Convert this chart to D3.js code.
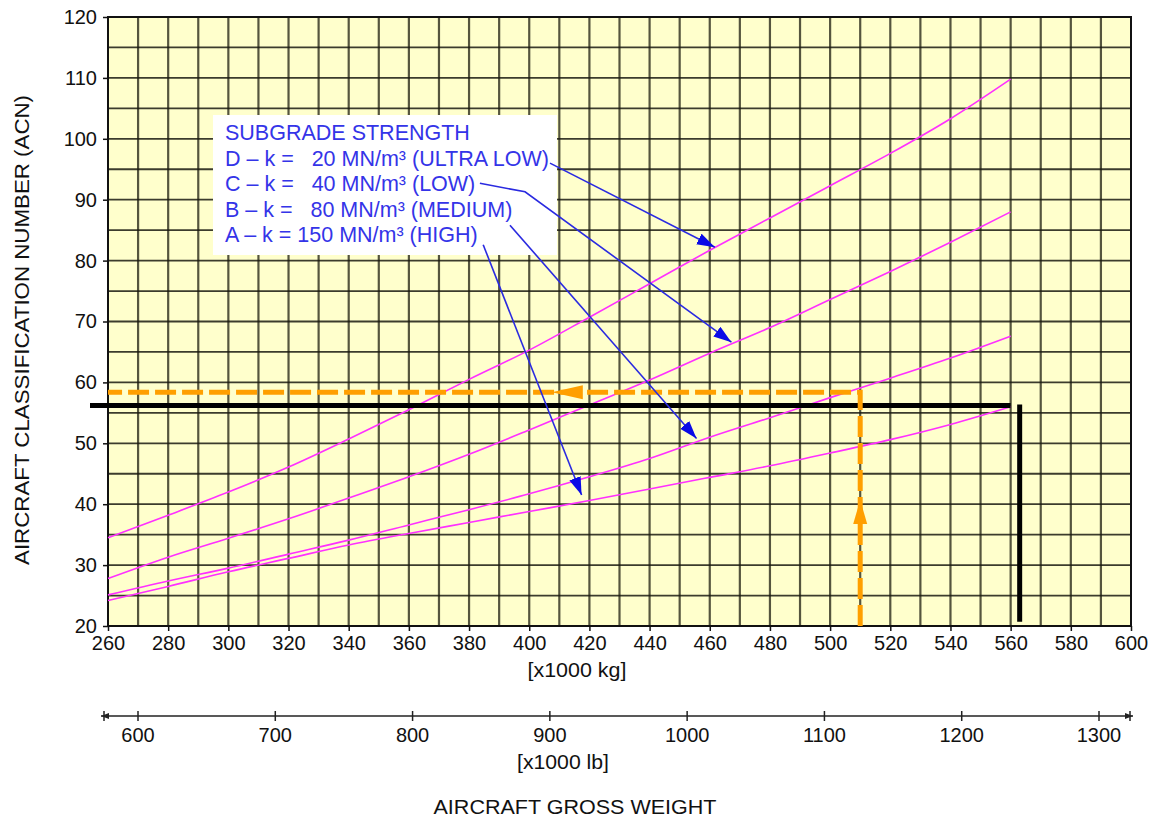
<!DOCTYPE html>
<html lang="en">
<head>
    <meta charset="UTF-8">
    <script src="https://d3js.org/d3.v7.min.js"></script>
    <title>ACN chart</title>
    <style>
        body { margin: 0; background: #fff; }
        text { font-family: "Liberation Sans", Arial, sans-serif; }
    </style>
</head>
<body>
    <div class="fig"></div>
    <script>
        // ---------------- data ----------------
        const weightKg = [260, 280, 300, 320, 340, 360, 380, 400, 420, 440, 460, 480, 500, 520, 540, 560];
        const acnD = [34.5, 38.2, 42.0, 46.1, 50.7, 55.5, 60.5, 65.3, 70.7, 76.2, 81.7, 87.0, 92.3, 97.6, 103.3, 109.8];
        const acnC = [27.8, 31.3, 34.4, 37.6, 41.0, 44.5, 48.2, 52.2, 56.3, 60.4, 64.8, 69.0, 73.6, 78.2, 83.0, 88.0];
        const acnB = [25.1, 27.4, 29.5, 31.8, 34.1, 36.6, 39.1, 41.7, 44.5, 47.5, 51.0, 54.2, 57.5, 60.7, 64.0, 67.6];
        const acnA = [24.2, 26.5, 28.9, 31.1, 33.3, 35.2, 37.0, 38.8, 40.6, 42.5, 44.4, 46.3, 48.4, 50.6, 53.1, 56.0];
        const kgTicks = [260, 280, 300, 320, 340, 360, 380, 400, 420, 440, 460, 480, 500, 520, 540, 560, 580, 600];
        const acnTicks = [20, 30, 40, 50, 60, 70, 80, 90, 100, 110, 120];
        const lbTicks = [600, 700, 800, 900, 1000, 1100, 1200, 1300];
        const legendLines = [
            "SUBGRADE STRENGTH",
            "D \u2013 k =   20 MN/m\u00b3 (ULTRA LOW)",
            "C \u2013 k =   40 MN/m\u00b3 (LOW)",
            "B \u2013 k =   80 MN/m\u00b3 (MEDIUM)",
            "A \u2013 k = 150 MN/m\u00b3 (HIGH)"
        ];
        // pointer arrows from the legend to the curves, [kg, acn] points
        const pointerD = [[406.9, 96.0], [461.7, 82.2]];
        const pointerC = [[383.6, 92.7], [398.6, 91.3], [467.2, 66.6]];
        const pointerB = [[393.6, 85.8], [455.6, 50.8]];
        const pointerA = [[384.7, 82.6], [417.4, 41.5]];
        // worked example
        const exampleKg = 510, exampleAcn = 58.4;
        const maxKg = 563, maxAcn = 56.2;

        // ---------------- layout ----------------
        const width = 1161, height = 823;
        const plot = { left: 108, right: 1131, top: 17, bottom: 626 };

        const svg = d3.select(".fig").append("svg")
            .attr("width", width)
            .attr("height", height);

        const x = d3.scaleLinear().domain([260, 600]).range([plot.left, plot.right]);
        const y = d3.scaleLinear().domain([20, 120]).range([plot.bottom, plot.top]);
        const xLb = d3.scaleLinear().domain([600, 1300]).range([138, 1099]);

        // background
        svg.append("rect")
            .attr("x", plot.left).attr("y", plot.top)
            .attr("width", plot.right - plot.left).attr("height", plot.bottom - plot.top)
            .attr("fill", "#ffffcc");

        // grid
        const grid = svg.append("g");
        grid.selectAll(".vg")
            .data(d3.range(270, 600, 10))
            .enter().append("line")
            .attr("x1", d => x(d)).attr("x2", d => x(d))
            .attr("y1", plot.top).attr("y2", plot.bottom)
            .attr("stroke", "#2a2a1a").attr("stroke-opacity", 0.8).attr("stroke-width", 2.2);
        grid.selectAll(".hg")
            .data(d3.range(25, 120, 5))
            .enter().append("line")
            .attr("x1", plot.left).attr("x2", plot.right)
            .attr("y1", d => y(d)).attr("y2", d => y(d))
            .attr("stroke", "#1a1a10").attr("stroke-opacity", 0.85).attr("stroke-width", 1.8);

        // frame
        svg.append("rect")
            .attr("x", plot.left).attr("y", plot.top)
            .attr("width", plot.right - plot.left).attr("height", plot.bottom - plot.top)
            .attr("fill", "none").attr("stroke", "#111").attr("stroke-width", 2);

        // axes
        const xAxis = svg.append("g")
            .attr("transform", `translate(0,${plot.bottom})`)
            .call(d3.axisBottom(x).tickValues(kgTicks).tickSize(5).tickPadding(5));
        const yAxis = svg.append("g")
            .attr("transform", `translate(${plot.left},0)`)
            .call(d3.axisLeft(y).tickValues(acnTicks).tickSize(5).tickPadding(6));
        [xAxis, yAxis].forEach(a => {
            a.select(".domain").remove();
            a.selectAll(".tick line").attr("stroke", "#111").attr("stroke-width", 1.5);
            a.selectAll("text").attr("font-size", 20).attr("fill", "#111")
                .attr("font-family", "'Liberation Sans', Arial, sans-serif");
        });

        // curves
        const lineGen = d3.line()
            .x(d => x(d[0]))
            .y(d => y(d[1]))
            .curve(d3.curveMonotoneX);
        [acnD, acnC, acnB, acnA].forEach(series => {
            svg.append("path")
                .datum(weightKg.map((w, i) => [w, series[i]]))
                .attr("d", lineGen)
                .attr("fill", "none")
                .attr("stroke", "#ff30ff")
                .attr("stroke-width", 1.6);
        });

        // black limit line
        svg.append("line")
            .attr("x1", 90).attr("x2", x(560))
            .attr("y1", y(maxAcn)).attr("y2", y(maxAcn))
            .attr("stroke", "#000").attr("stroke-width", 5);
        svg.append("line")
            .attr("x1", x(maxKg)).attr("x2", x(maxKg))
            .attr("y1", y(maxAcn) - 1).attr("y2", y(20.7))
            .attr("stroke", "#000").attr("stroke-width", 5);

        // orange worked example
        const orange = "#ff9f00";
        svg.append("path")
            .attr("d", `M${x(exampleKg)},${y(20)} L${x(exampleKg)},${y(exampleAcn)} L${plot.left},${y(exampleAcn)}`)
            .attr("fill", "none")
            .attr("stroke", orange)
            .attr("stroke-width", 5)
            .attr("stroke-dasharray", "21,6");
        // up arrow head
        const ux = x(exampleKg), uy = y(40.7);
        svg.append("path")
            .attr("d", `M${ux},${uy} L${ux + 7},${uy + 24} L${ux - 7},${uy + 24} Z`)
            .attr("fill", orange);
        // left arrow head
        const lx = x(407.5), ly = y(exampleAcn);
        svg.append("path")
            .attr("d", `M${lx},${ly} L${lx + 31},${ly - 7} L${lx + 31},${ly + 7} Z`)
            .attr("fill", orange);

        // legend box
        const legend = svg.append("g");
        legend.append("rect")
            .attr("x", 213).attr("y", 115)
            .attr("width", 344).attr("height", 140)
            .attr("fill", "#fff");
        legend.selectAll("text")
            .data(legendLines)
            .enter().append("text")
            .attr("x", 225)
            .attr("y", (d, i) => 140 + i * 25.6)
            .attr("font-size", 21.5)
            .attr("fill", "#3434e8")
            .attr("xml:space", "preserve")
            .style("white-space", "pre")
            .text(d => d);

        // blue pointers
        svg.append("defs").append("marker")
            .attr("id", "bluehead")
            .attr("markerUnits", "userSpaceOnUse")
            .attr("markerWidth", 20).attr("markerHeight", 14)
            .attr("refX", 18).attr("refY", 6)
            .attr("orient", "auto")
            .append("path")
            .attr("d", "M0,0 L18,6 L0,12 Z")
            .attr("fill", "#0a0ae6");
        const pointerGen = d3.line().x(d => x(d[0])).y(d => y(d[1]));
        [pointerD, pointerC, pointerB, pointerA].forEach(p => {
            svg.append("path")
                .attr("d", pointerGen(p))
                .attr("fill", "none")
                .attr("stroke", "#2a2ae0")
                .attr("stroke-width", 1.6)
                .attr("marker-end", "url(#bluehead)");
        });

        // secondary lb axis
        const lbY = 716;
        const lbAxis = svg.append("g");
        lbAxis.append("line")
            .attr("x1", 101).attr("x2", 1133)
            .attr("y1", lbY).attr("y2", lbY)
            .attr("stroke", "#222").attr("stroke-width", 1.5);
        lbAxis.append("path")
            .attr("d", `M101,${lbY} L109,${lbY - 3} L109,${lbY + 3} Z M1133,${lbY} L1125,${lbY - 3} L1125,${lbY + 3} Z`)
            .attr("fill", "#222");
        lbAxis.selectAll(".lbtick")
            .data(lbTicks)
            .enter().append("line")
            .attr("x1", d => xLb(d)).attr("x2", d => xLb(d))
            .attr("y1", lbY - 5).attr("y2", lbY + 5)
            .attr("stroke", "#222").attr("stroke-width", 1.5);
        lbAxis.selectAll(".lbtick2")
            .data([104, 1130])
            .enter().append("line")
            .attr("x1", d => d).attr("x2", d => d)
            .attr("y1", lbY - 5).attr("y2", lbY + 5)
            .attr("stroke", "#222").attr("stroke-width", 1.5);
        lbAxis.selectAll(".lblab")
            .data(lbTicks)
            .enter().append("text")
            .attr("x", d => xLb(d))
            .attr("y", 742)
            .attr("text-anchor", "middle")
            .attr("font-size", 20)
            .attr("fill", "#111")
            .text(d => d);

        // axis titles
        svg.append("text")
            .attr("x", 577).attr("y", 677)
            .attr("text-anchor", "middle")
            .attr("font-size", 20).attr("fill", "#111")
            .attr("textLength", 99).attr("lengthAdjust", "spacingAndGlyphs")
            .text("[x1000 kg]");
        svg.append("text")
            .attr("x", 563).attr("y", 769)
            .attr("text-anchor", "middle")
            .attr("font-size", 20).attr("fill", "#111")
            .attr("textLength", 92).attr("lengthAdjust", "spacingAndGlyphs")
            .text("[x1000 lb]");
        svg.append("text")
            .attr("x", 575).attr("y", 814)
            .attr("text-anchor", "middle")
            .attr("font-size", 20).attr("fill", "#111")
            .attr("textLength", 283).attr("lengthAdjust", "spacingAndGlyphs")
            .text("AIRCRAFT GROSS WEIGHT");
        svg.append("text")
            .attr("transform", "translate(29,330) rotate(-90)")
            .attr("text-anchor", "middle")
            .attr("font-size", 20).attr("fill", "#111")
            .attr("textLength", 470).attr("lengthAdjust", "spacingAndGlyphs")
            .text("AIRCRAFT CLASSIFICATION NUMBER (ACN)");
    </script>
</body>
</html>
